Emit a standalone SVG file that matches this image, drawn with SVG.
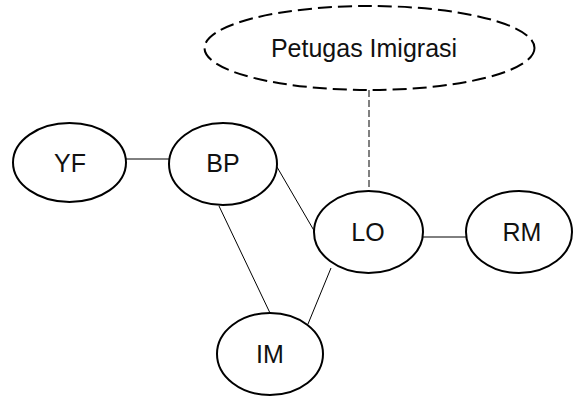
<svg xmlns="http://www.w3.org/2000/svg" width="575" height="396" viewBox="0 0 575 396">
<style>
.node{fill:#fff;stroke:#000;stroke-width:2}
.dashed{stroke-dasharray:14 6}
.lbl{font-family:"Liberation Sans",Arial,sans-serif;font-size:25px;fill:#111;text-anchor:middle}
.edge{stroke:#000;stroke-width:1;fill:none}
</style>
<rect width="575" height="396" fill="#fff"/>
<g id="connectors">
<line class="edge" x1="126" y1="159" x2="169" y2="159"/>
<line class="edge" x1="277" y1="167" x2="316" y2="234"/>
<line class="edge" x1="219" y1="206" x2="270" y2="313"/>
<line class="edge" x1="331" y1="268" x2="308" y2="324"/>
<line class="edge" x1="423" y1="237" x2="466" y2="237"/>
<line class="edge" x1="369" y1="90" x2="369" y2="191" stroke-dasharray="7 3" stroke-width="1.3"/>
</g>
<g id="petugas">
<ellipse class="node dashed" cx="369.5" cy="48" rx="165" ry="42"/>
<text class="lbl" x="364" y="57">Petugas Imigrasi</text>
</g>
<g id="YF">
<ellipse class="node" cx="69.5" cy="162.5" rx="56.5" ry="39.5"/>
<text class="lbl" x="70" y="172">YF</text>
</g>
<g id="BP">
<ellipse class="node" cx="223" cy="164" rx="54" ry="41"/>
<text class="lbl" x="223" y="172">BP</text>
</g>
<g id="LO">
<ellipse class="node" cx="368.5" cy="232" rx="54.5" ry="41"/>
<text class="lbl" x="368" y="241">LO</text>
</g>
<g id="RM">
<ellipse class="node" cx="519" cy="232" rx="53" ry="41"/>
<text class="lbl" x="522" y="241">RM</text>
</g>
<g id="IM">
<ellipse class="node" cx="270" cy="354" rx="53" ry="41"/>
<text class="lbl" x="270" y="363">IM</text>
</g>
</svg>
